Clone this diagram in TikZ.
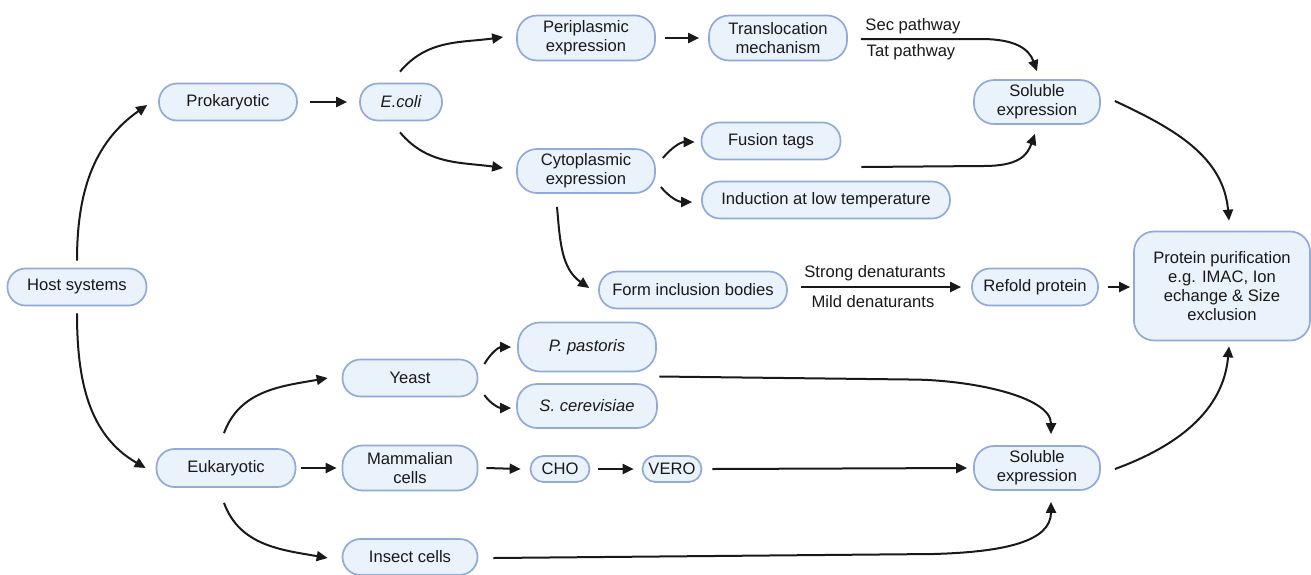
\documentclass[tikz,border=0pt]{standalone}
\usepackage{fontspec}
\setmainfont{Liberation Sans}
\usetikzlibrary{arrows.meta,calc}
\definecolor{boxfill}{RGB}{234,242,252}
\definecolor{boxdraw}{RGB}{145,170,215}
\definecolor{ink}{RGB}{25,25,25}
\begin{document}
\begin{tikzpicture}[x=1pt,y=1pt,
  every node/.style={text=ink,font=\fontsize{16.6}{19}\selectfont},
  pill/.style={draw=boxdraw,fill=boxfill,line width=1.7pt,rounded corners=18pt,align=center,inner sep=0pt},
  conn/.style={draw=ink,line width=2pt,-{Triangle[length=11pt,width=10pt]}},
  lbl/.style={inner sep=0pt}]
\useasboundingbox (0,0) rectangle (1311,-574);
% nodes
\node[pill,minimum width=139,minimum height=37] (host) at (77,-287) {Host systems};
\node[pill,minimum width=138,minimum height=37] (pro) at (228,-102) {Prokaryotic};
\node[pill,minimum width=82,minimum height=37] (ecoli) at (401,-102) {\itshape E.coli};
\node[pill,minimum width=138,minimum height=45,rounded corners=20pt] (peri) at (586,-38) {Periplasmic\\expression};
\node[pill,minimum width=138,minimum height=45,rounded corners=20pt] (trans) at (778,-38) {Translocation\\mechanism};
\node[pill,minimum width=126,minimum height=44,rounded corners=20pt] (sol1) at (1037,-102) {Soluble\\expression};
\node[pill,minimum width=138,minimum height=44,rounded corners=20pt] (cyto) at (586,-171) {Cytoplasmic\\expression};
\node[pill,minimum width=139,minimum height=37] (fusion) at (771,-141) {Fusion tags};
\node[pill,minimum width=248,minimum height=37] (induct) at (826,-200) {Induction at low temperature};
\node[pill,minimum width=188,minimum height=37] (form) at (693,-290) {Form inclusion bodies};
\node[pill,minimum width=126,minimum height=37] (refold) at (1035,-287) {Refold protein};
\node[pill,minimum width=176,minimum height=109,rounded corners=20pt] (pur) at (1222,-286) {Protein purification\\e.g. IMAC, Ion\\echange \& Size\\exclusion};
\node[pill,minimum width=135,minimum height=37] (yeast) at (410,-378) {Yeast};
\node[pill,minimum width=138,minimum height=49,rounded corners=22pt] (pp) at (587,-347) {\itshape P. pastoris};
\node[pill,minimum width=140,minimum height=44,rounded corners=20pt] (sc) at (587,-406) {\itshape S. cerevisiae};
\node[pill,minimum width=139,minimum height=38] (euk) at (226,-468) {Eukaryotic};
\node[pill,minimum width=135,minimum height=45,rounded corners=20pt] (mam) at (410,-468) {Mammalian\\cells};
\node[pill,minimum width=59,minimum height=26,rounded corners=13pt] (cho) at (560,-469) {CHO};
\node[pill,minimum width=59,minimum height=26,rounded corners=13pt] (vero) at (672,-469) {VERO};
\node[pill,minimum width=135,minimum height=36] (insect) at (410,-557) {Insect cells};
\node[pill,minimum width=126,minimum height=44,rounded corners=20pt] (sol2) at (1037,-468) {Soluble\\expression};
% labels
\node[lbl] (sec) at (913,-26) {Sec pathway};
\node[lbl] (tat) at (911,-52) {Tat pathway};
\node[lbl] (strong) at (875,-273) {Strong denaturants};
\node[lbl] (mild) at (873,-302) {Mild denaturants};
% connectors
\draw[conn] ($(host.north)+(0,7)$) to[out=90,in=215] ($(pro.west)+(-11,-3)$);
\draw[conn] ($(host.south)+(0,-7)$) to[out=-90,in=150] ($(euk.west)+(-10,0)$);
\draw[conn] ($(pro.east)+(12,0)$) -- ($(ecoli.west)+(-12,0)$);
\draw[conn] ($(ecoli.north)+(-1,11)$) to[out=50,in=188] ($(peri.west)+(-13,1)$);
\draw[conn] ($(ecoli.south)+(-1,-11)$) to[out=-50,in=172] ($(cyto.west)+(-13,3)$);
\draw[conn] ($(peri.east)+(9,0)$) -- ($(trans.west)+(-9,0)$);
\coordinate (tstart) at ($(trans.east)+(13,-1)$);
\draw[conn] (tstart) -- ++(120,0) .. controls +(35,0) and +(-8,22) .. ($(sol1.north)+(0,8)$);
\draw[conn] ($(cyto.east)+(7,13)$) to[out=50,in=180] ($(fusion.west)+(-6,-1)$);
\draw[conn] ($(cyto.east)+(5,-16)$) to[out=-50,in=180] ($(induct.west)+(-9,-2)$);
\draw[conn] ($(cyto.south)+(-29,-13)$) to[out=-85,in=145] ($(form.west)+(-9,2)$);
\coordinate (fstart) at ($(fusion.east)+(20,-26)$);
\draw[conn] (fstart) -- ++(122,1) .. controls +(35,0) and +(-8,-22) .. ($(sol1.south)+(-2,-9)$);
\draw[conn] ($(form.east)+(13,3)$) -- ($(refold.west)+(-10,0)$);
\draw[conn] ($(refold.east)+(9,0)$) -- ($(pur.west)+(-3,-1)$);
\draw[conn] ($(sol1.east)+(14,1)$) to[out=-25,in=95] ($(pur.north)+(7,10)$);
\draw[conn] ($(sol2.east)+(14,-1)$) to[out=20,in=-95] ($(pur.south)+(7,-5)$);
\draw[conn] ($(euk.north)+(-2,15)$) to[out=70,in=190] ($(yeast.west)+(-14,0)$);
\draw[conn] ($(euk.east)+(5,0)$) -- ($(mam.west)+(-5,0)$);
\draw[conn] ($(euk.south)+(-2,-15)$) to[out=-70,in=170] ($(insect.west)+(-14,-1)$);
\draw[conn] ($(yeast.east)+(6,14)$) to[out=60,in=180] ($(pp.west)+(-6,0)$);
\draw[conn] ($(yeast.east)+(6,-17)$) to[out=-55,in=180] ($(sc.west)+(-5,-2)$);
\draw[conn] ($(mam.east)+(8,0)$) -- ($(cho.west)+(-9,0)$);
\draw[conn] ($(cho.east)+(8,0)$) -- ($(vero.west)+(-8,0)$);
\coordinate (ystart) at ($(pp.east)!0.5!(sc.east)+(2,0)$);
\draw[conn] (ystart) -- ++(250,-3) .. controls +(60,0) and +(0,38) .. ($(sol2.north)+(14,11)$);
\draw[conn] ($(vero.east)+(10,0)$) -- ($(sol2.west)+(-6,0)$);
\coordinate (istart) at ($(insect.east)+(15,-1)$);
\draw[conn] (istart) -- ++(440,4) .. controls +(70,2) and +(0,-40) .. ($(sol2.south)+(14,-11)$);
\end{tikzpicture}
\end{document}
